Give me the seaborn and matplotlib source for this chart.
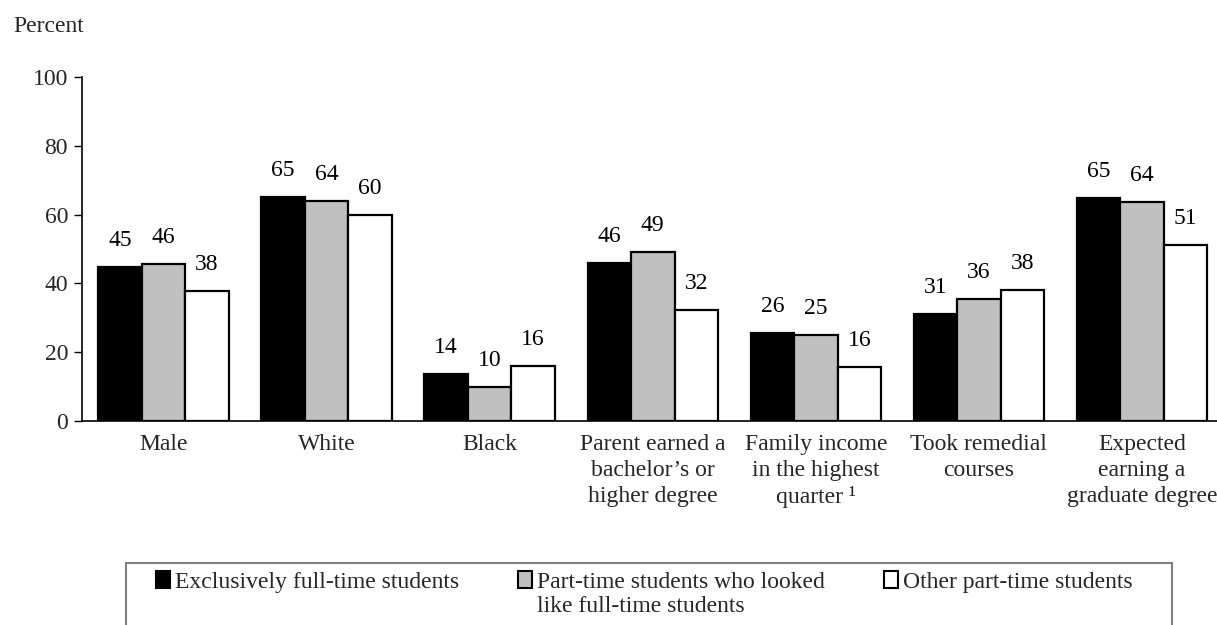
import matplotlib
matplotlib.use("Agg")
import matplotlib.pyplot as plt
import seaborn as sns
import pandas as pd
from matplotlib.patches import Patch, Rectangle

categories = [
    "Male",
    "White",
    "Black",
    "Parent earned a\nbachelor\u2019s or\nhigher degree",
    "Family income\nin the highest\nquarter \u00b9",
    "Took remedial\ncourses",
    "Expected\nearning a\ngraduate degree",
]
series_names = [
    "Exclusively full-time students",
    "Part-time students who looked",
    "Other part-time students",
]
series_name_continuation = "like full-time students"
full_time = [44.8, 65.1, 13.6, 45.9, 25.6, 31.1, 64.8]
part_time_like_full = [45.6, 64.0, 10.0, 49.1, 25.0, 35.6, 63.7]
other_part_time = [37.8, 60.0, 16.0, 32.3, 15.8, 38.1, 51.2]
y_ticks = [0, 20, 40, 60, 80, 100]

colors = ["#000000", "#C0C0C0", "#FFFFFF"]

sns.set_theme(style="white")
plt.rcParams["font.family"] = ["Liberation Serif", "DejaVu Serif"]
FS = 17

rows = []
for name, vals in zip(series_names, [full_time, part_time_like_full, other_part_time]):
    for c, v in zip(categories, vals):
        rows.append({"category": c, "series": name, "value": v})
df = pd.DataFrame(rows)

fig = plt.figure(figsize=(12.17, 6.25), dpi=100)
ax = fig.add_axes([82 / 1217, 1 - 421 / 625, 1 - 82 / 1217, (421 - 77) / 625])

sns.barplot(data=df, x="category", y="value", hue="series", order=categories,
            hue_order=series_names, palette=colors, width=0.8, gap=0,
            edgecolor="black", linewidth=1.6, saturation=1, ax=ax, legend=False)

for container in ax.containers:
    for patch in container.patches:
        h = patch.get_height()
        xc = patch.get_x() + patch.get_width() / 2
        ax.annotate(f"{round(h):d}", (xc, h), xytext=(0, 19), textcoords="offset points",
                    ha="center", va="center", fontsize=FS, color="black")

ax.set_ylim(0, 100)
ax.set_xlim(-0.5, 6.46)
ax.set_yticks(y_ticks)
ax.set_yticklabels([str(t) for t in y_ticks], fontsize=FS)
ax.set_xticks(range(len(categories)))
ax.set_xticklabels(categories, fontsize=FS, linespacing=1.3)
ax.set_xlabel("")
ax.set_ylabel("")
ax.tick_params(axis="y", direction="out", length=6, width=1, color="black", pad=4, left=True)
ax.tick_params(axis="x", length=0, pad=9.5)
for s in ["top", "right"]:
    ax.spines[s].set_visible(False)
for s in ["left", "bottom"]:
    ax.spines[s].set_color("black")
    ax.spines[s].set_linewidth(1.2)
ax.grid(False)

fig.text(13 / 1217, 1 - 27 / 625, "Percent", fontsize=FS, ha="left", va="center")

# legend box (bottom extends past the figure edge)
box = Rectangle((126 / 1217, -0.05), (1172 - 126) / 1217, (625 - 563) / 625 + 0.05,
                transform=fig.transFigure, fill=False, edgecolor="#808080", linewidth=1.5)
fig.patches.append(box)

handles = [Patch(facecolor=c, edgecolor="black", linewidth=1.5) for c in colors]
leg = fig.legend(handles, series_names, ncol=3, loc="center left",
                 bbox_to_anchor=(156 / 1217, 1 - 582 / 625), frameon=False,
                 fontsize=FS, handlelength=0.6, handleheight=0.75, handletextpad=0.2,
                 columnspacing=2.5, borderpad=0, borderaxespad=0)

fig.canvas.draw()
renderer = fig.canvas.get_renderer()
bb = leg.get_texts()[1].get_window_extent(renderer).transformed(fig.transFigure.inverted())
fig.text(bb.x0, 1 - 606 / 625, series_name_continuation, fontsize=FS,
         ha="left", va="center")

fig.savefig("out.png", dpi=100)
